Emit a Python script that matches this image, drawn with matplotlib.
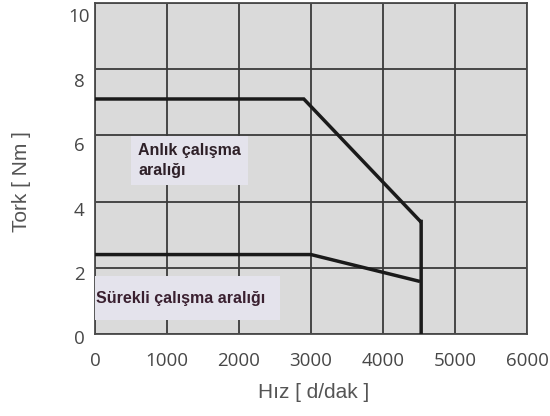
import matplotlib
matplotlib.use("Agg")
import matplotlib.pyplot as plt
import matplotlib.transforms as mtransforms

# Data
peak_speed = [0, 2900, 4520, 4530, 4530]
peak_torque = [7.1, 7.1, 3.4, 3.4, 0]
cont_speed = [0, 3000, 4490]
cont_torque = [2.4, 2.4, 1.6]
x_ticks = [0, 1000, 2000, 3000, 4000, 5000, 6000]
y_ticks = [0, 2, 4, 6, 8, 10]
label_peak = "Anlık çalışma\naralığı"
label_cont = "Sürekli çalışma aralığı"
x_label = "Hız [ d/dak ]"
y_label = "Tork [ Nm ]"

fig = plt.figure(figsize=(5.5, 4.16), dpi=100)
ax = fig.add_axes([95/550, 1-334/416, 432/550, 331/416])
ax.set_facecolor("#dadada")
ax.set_xlim(0, 6000)
ax.set_ylim(0, 10)
ax.set_xticks(x_ticks)
ax.set_yticks(y_ticks)
ax.grid(True, color="#3a3a3a", lw=1.3, zorder=1)
ax.set_axisbelow(True)
for s in ax.spines.values():
    s.set_color("#4a4a4a")
    s.set_linewidth(1.3)

ax.tick_params(length=0, labelsize=13.5, labelcolor="#474747")
ax.tick_params(axis="x", pad=13)
ax.tick_params(axis="y", pad=11.5)
for i, lab in enumerate(ax.get_yticklabels()):
    lab.set_horizontalalignment("center")
    off = (3.5 + 1.7 * i) / 100
    lab.set_transform(lab.get_transform() + mtransforms.ScaledTranslation(0, -off, fig.dpi_scale_trans))
for lab in ax.get_xticklabels() + ax.get_yticklabels():
    lab.set_fontfamily("Open Sans")

ax.plot(peak_speed, peak_torque, color="#1a1a1a", lw=2.5, zorder=5, solid_joinstyle="miter")
ax.plot(cont_speed, cont_torque, color="#1a1a1a", lw=2.5, zorder=5, solid_joinstyle="miter")

ax.text(600, 5.76, label_peak, fontsize=11.5, fontweight="bold", family="Liberation Sans",
        color="#2e2028", va="top", ha="left", linespacing=1.35,
        bbox=dict(boxstyle="square,pad=0.45", facecolor="#e4e3ec", edgecolor="none"),
        zorder=3)
ax.text(20, 1.08, label_cont, fontsize=11.5, fontweight="bold", family="Liberation Sans",
        color="#3a2030", va="center", ha="left",
        bbox=dict(boxstyle="square,pad=0.9", facecolor="#e4e3ec", edgecolor="none"),
        zorder=3, clip_on=True)

fig.text(314/550, 1-393/416, x_label, fontsize=15, family="Liberation Sans",
         color="#555555", ha="center", va="center")
fig.text(22/550, 1-182/416, y_label, fontsize=15, family="Liberation Sans",
         color="#555555", ha="center", va="center", rotation=90)

fig.savefig("out.png", dpi=100)
